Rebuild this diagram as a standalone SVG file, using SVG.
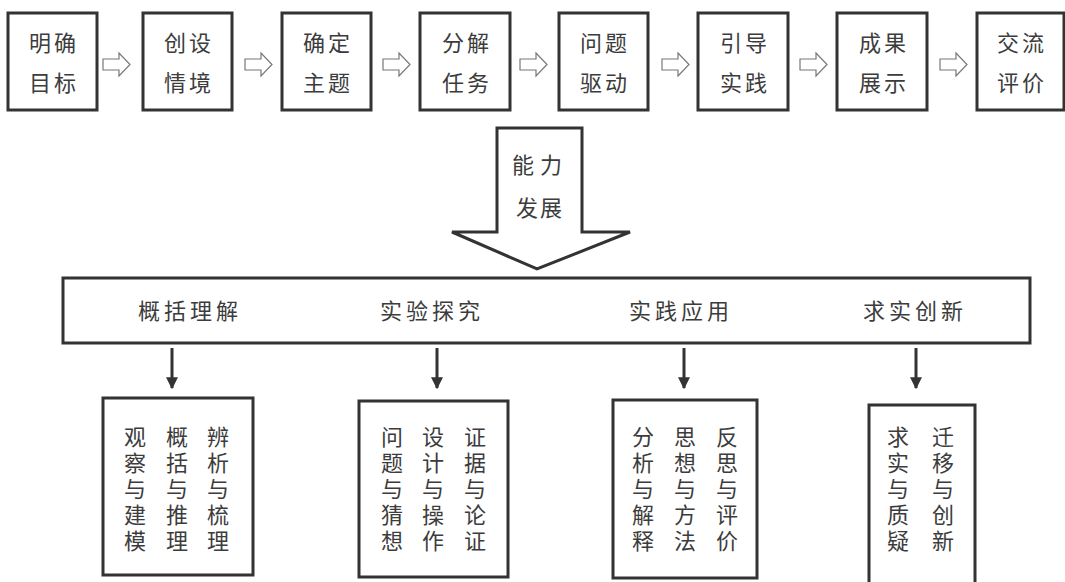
<svg xmlns="http://www.w3.org/2000/svg" width="1065" height="582" viewBox="0 0 1065 582">
<defs>
<style>
.box{fill:#fff;stroke:#333;stroke-width:3}
.t{font-family:"Noto Sans CJK SC","Noto Sans CJK JP",sans-serif;font-size:22px;fill:#3c3c3c;text-anchor:middle}
.tl{letter-spacing:3px}
.v{font-family:"Noto Sans CJK SC","Noto Sans CJK JP",sans-serif;font-size:22px;fill:#3c3c3c;writing-mode:vertical-rl;text-anchor:start;letter-spacing:4px}
.ha{fill:#fff;stroke:#777;stroke-width:1.2;stroke-linejoin:miter}
.con{stroke:#333;stroke-width:3;fill:none}
</style>
<marker id="ah" viewBox="0 0 10 10" refX="9" refY="5" markerWidth="4" markerHeight="4" orient="auto" markerUnits="strokeWidth">
<path d="M0,0 L10,5 L0,10 Z" fill="#333"/>
</marker>
</defs>
<rect width="1065" height="582" fill="#fff"/>

<g id="n1"><rect class="box" x="8" y="13" width="89" height="97"/><text class="t tl" x="54" y="51">明确</text><text class="t tl" x="54" y="91">目标</text></g>
<g id="n2"><rect class="box" x="143" y="13" width="89" height="97"/><text class="t tl" x="189" y="51">创设</text><text class="t tl" x="189" y="91">情境</text></g>
<g id="n3"><rect class="box" x="282" y="13" width="89" height="97"/><text class="t tl" x="328" y="51">确定</text><text class="t tl" x="328" y="91">主题</text></g>
<g id="n4"><rect class="box" x="420" y="13" width="90" height="97"/><text class="t tl" x="467" y="51">分解</text><text class="t tl" x="467" y="91">任务</text></g>
<g id="n5"><rect class="box" x="559" y="13" width="89" height="97"/><text class="t tl" x="605" y="51">问题</text><text class="t tl" x="605" y="91">驱动</text></g>
<g id="n6"><rect class="box" x="698" y="13" width="90" height="97"/><text class="t tl" x="745" y="51">引导</text><text class="t tl" x="745" y="91">实践</text></g>
<g id="n7"><rect class="box" x="837" y="13" width="90" height="97"/><text class="t tl" x="884" y="51">成果</text><text class="t tl" x="884" y="91">展示</text></g>
<g id="n8"><rect class="box" x="977" y="13" width="87" height="97"/><text class="t tl" x="1022" y="51">交流</text><text class="t tl" x="1022" y="91">评价</text></g>

<g id="connectors">
<polygon class="ha" points="103,59 119,59 119,53 130,64.5 119,76 119,70 103,70"/>
<polygon class="ha" points="245,59 261,59 261,53 272,64.5 261,76 261,70 245,70"/>
<polygon class="ha" points="383,59 399,59 399,53 410,64.5 399,76 399,70 383,70"/>
<polygon class="ha" points="520,59 536,59 536,53 547,64.5 536,76 536,70 520,70"/>
<polygon class="ha" points="662,59 678,59 678,53 689,64.5 678,76 678,70 662,70"/>
<polygon class="ha" points="800,59 816,59 816,53 827,64.5 816,76 816,70 800,70"/>
<polygon class="ha" points="940,59 956,59 956,53 967,64.5 956,76 956,70 940,70"/>
<line class="con" x1="172" y1="348" x2="172" y2="388" marker-end="url(#ah)"/>
<line class="con" x1="437" y1="348" x2="437" y2="388" marker-end="url(#ah)"/>
<line class="con" x1="684" y1="348" x2="684" y2="388" marker-end="url(#ah)"/>
<line class="con" x1="916" y1="348" x2="916" y2="388" marker-end="url(#ah)"/>
</g>

<g id="bigarrow">
<polygon class="box" points="497,128 582,128 582,232 630,232 537,269 452,232 497,232"/>
<text class="t" x="540" y="173" style="letter-spacing:6px">能力</text>
<text class="t" x="540" y="216" style="letter-spacing:2px">发展</text>
</g>

<g id="band">
<rect class="box" x="63" y="278" width="967" height="65"/>
<text class="t" x="190" y="319" style="letter-spacing:4px">概括理解</text>
<text class="t" x="432" y="319" style="letter-spacing:4px">实验探究</text>
<text class="t" x="681" y="319" style="letter-spacing:4px">实践应用</text>
<text class="t" x="915" y="319" style="letter-spacing:4px">求实创新</text>
</g>

<g id="b1">
<rect class="box" x="103" y="398" width="150" height="177"/>
<text class="v" x="135" y="426">观察与建模</text>
<text class="v" x="177" y="426">概括与推理</text>
<text class="v" x="218" y="426">辨析与梳理</text>
</g>
<g id="b2">
<rect class="box" x="359" y="401" width="149" height="176"/>
<text class="v" x="392" y="426">问题与猜想</text>
<text class="v" x="433" y="426">设计与操作</text>
<text class="v" x="475" y="426">证据与论证</text>
</g>
<g id="b3">
<rect class="box" x="613" y="400" width="144" height="178"/>
<text class="v" x="643" y="426">分析与解释</text>
<text class="v" x="685" y="426">思想与方法</text>
<text class="v" x="727" y="426">反思与评价</text>
</g>
<g id="b4">
<rect class="box" x="869" y="405" width="106" height="182"/>
<text class="v" x="898" y="426">求实与质疑</text>
<text class="v" x="943" y="426">迁移与创新</text>
</g>
</svg>
